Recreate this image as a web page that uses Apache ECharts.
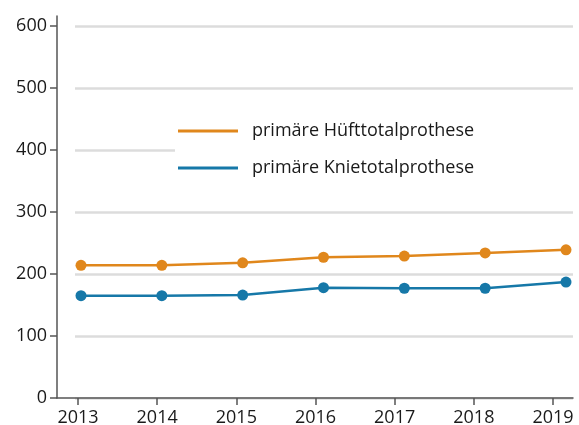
<!DOCTYPE html>
<html>
<head>
<meta charset="utf-8">
<script src="https://cdn.jsdelivr.net/npm/echarts@6/dist/echarts.min.js"></script>
<style>
  html, body { margin: 0; padding: 0; background: #fff; }
  #chart { width: 579px; height: 425px; }
</style>
</head>
<body>
<div id="chart"></div>
<script>
// Daten
const years = ['2013', '2014', '2015', '2016', '2017', '2018', '2019'];
const hueftValues = [214, 214, 218, 227, 229, 234, 239];
const knieValues = [165, 165, 166, 178, 177, 177, 187];
const seriesNames = ['primäre Hüfttotalprothese', 'primäre Knietotalprothese'];

const ORANGE = '#e0871c';
const BLUE = '#1678a8';
const FONT = 'Open Sans';

const chart = echarts.init(document.getElementById('chart'));

const lineSeries = (name, values, color) => ({
    name: name,
    type: 'line',
    xAxisIndex: 0,
    yAxisIndex: 0,
    data: values,
    symbol: 'circle',
    symbolSize: 11,
    lineStyle: { color: color, width: 2.5 },
    itemStyle: { color: color },
    z: 3
});

chart.setOption({
    animation: false,
    textStyle: { fontFamily: FONT },
    grid: [
        // Datenbereich
        { left: 81, right: 13, top: 26, bottom: 27, outerBoundsMode: 'none' },
        // Gitterlinien
        { left: 75, right: 6, top: 26, bottom: 27, outerBoundsMode: 'none' },
        // Achsenlinien
        { left: 57, right: 6, top: 16, bottom: 27, outerBoundsMode: 'none' },
        // Jahresbeschriftung
        { left: 78, right: 26, top: 26, bottom: 27, outerBoundsMode: 'none' }
    ],
    xAxis: [
        { gridIndex: 0, type: 'category', data: years, boundaryGap: false, show: false },
        { gridIndex: 1, type: 'category', data: years, show: false },
        {
            gridIndex: 2,
            type: 'category',
            data: years,
            axisLine: { show: true, lineStyle: { color: '#555', width: 1.5 } },
            axisTick: { show: false },
            axisLabel: { show: false }
        },
        {
            gridIndex: 3,
            type: 'category',
            data: years,
            boundaryGap: false,
            axisLine: { show: false },
            axisTick: { show: true, length: 7, lineStyle: { color: '#555', width: 1.5 } },
            axisLabel: { color: '#1a1a1a', fontSize: 18, margin: 11 }
        }
    ],
    yAxis: [
        {
            gridIndex: 0,
            type: 'value',
            min: 0,
            max: 600,
            interval: 100,
            offset: 24,
            axisLine: { show: false },
            axisTick: { show: true, length: 7, lineStyle: { color: '#555', width: 1.5 } },
            axisLabel: { color: '#1a1a1a', fontSize: 18, margin: 10 },
            splitLine: { show: false }
        },
        {
            gridIndex: 1,
            type: 'value',
            min: 0,
            max: 600,
            interval: 100,
            axisLine: { show: false },
            axisTick: { show: false },
            axisLabel: { show: false },
            splitLine: { show: true, lineStyle: { color: '#dcdcdc', width: 2.5 } }
        },
        {
            gridIndex: 2,
            type: 'value',
            axisLine: { show: true, lineStyle: { color: '#555', width: 1.5 } },
            axisTick: { show: false },
            axisLabel: { show: false },
            splitLine: { show: false }
        },
        { gridIndex: 3, type: 'value', show: false, splitLine: { show: false } }
    ],
    legend: {
        orient: 'vertical',
        left: 175,
        top: 116,
        data: seriesNames,
        icon: 'rect',
        itemWidth: 60,
        itemHeight: 3,
        itemGap: 17,
        padding: [5, 110, 5, 3],
        backgroundColor: '#fff',
        textStyle: { color: '#1a1a1a', fontSize: 18, lineHeight: 20, padding: [0, 0, 0, 9] },
        z: 10
    },
    series: [
        lineSeries(seriesNames[0], hueftValues, ORANGE),
        lineSeries(seriesNames[1], knieValues, BLUE)
    ]
});

window.addEventListener('resize', () => chart.resize());
</script>
</body>
</html>
